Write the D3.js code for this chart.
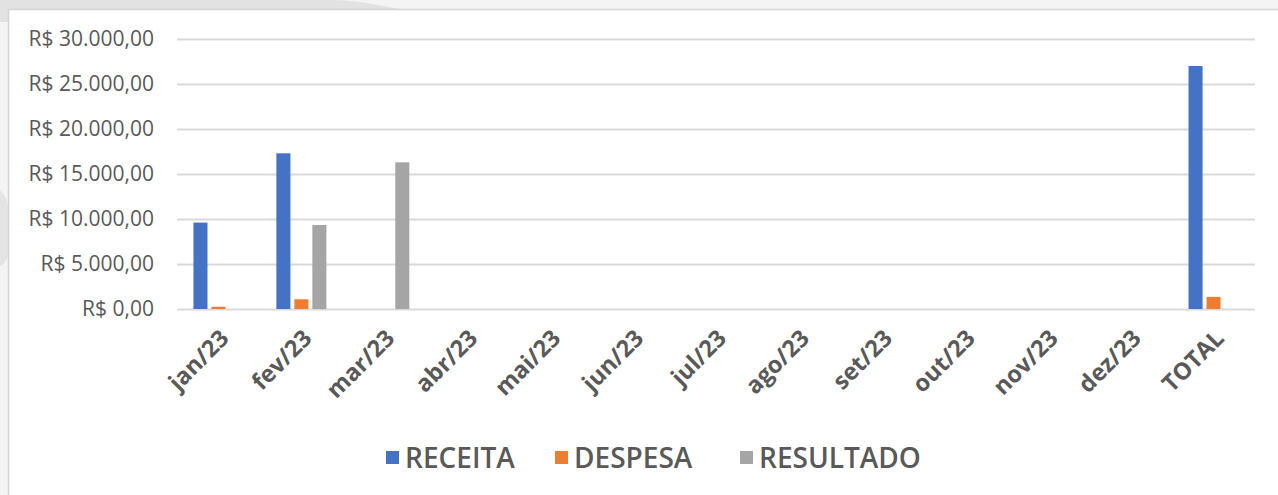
<!DOCTYPE html>
<html>
<head>
<meta charset="utf-8">
<script src="https://cdn.jsdelivr.net/npm/d3@7"></script>
<style>
  body { margin: 0; background: #fff; }
  svg { display: block; }
</style>
</head>
<body>
<svg width="1278" height="495"></svg>
<script>
// data
var categories = ["jan/23", "fev/23", "mar/23", "abr/23", "mai/23", "jun/23",
                  "jul/23", "ago/23", "set/23", "out/23", "nov/23", "dez/23", "TOTAL"];
var seriesNames = ["RECEITA", "DESPESA", "RESULTADO"];
var receita   = [9600, 17300, 0, 0, 0, 0, 0, 0, 0, 0, 0, 0, 27000];
var despesa   = [250, 1080, 0, 0, 0, 0, 0, 0, 0, 0, 0, 0, 1350];
var resultado = [0, 9330, 16300, 0, 0, 0, 0, 0, 0, 0, 0, 0, 0];
var yTicks = [0, 5000, 10000, 15000, 20000, 25000, 30000];
var colors = ["#4472C4", "#ED7D31", "#A5A5A5"];

var seriesValues = [receita, despesa, resultado];

var svg = d3.select("svg"),
    margin = {top: 39, right: 23, bottom: 186, left: 177},
    width = +svg.attr("width") - margin.left - margin.right,
    height = +svg.attr("height") - margin.top - margin.bottom;

// outside background bits (the chart sits on a grey page)
svg.append("rect").attr("width", 1278).attr("height", 495).attr("fill", "#f4f4f4");
svg.append("path")
    .attr("d", "M0,0 L330,0 C360,0 380,6 400,9 L8,9 L8,22 L0,22 Z")
    .attr("fill", "#e2e2e2");
svg.append("path")
    .attr("d", "M0,190 C5,195 8,200 8,210 L8,255 C6,262 3,265 0,266 Z")
    .attr("fill", "#e4e4e4");
svg.append("rect")
    .attr("x", 8.5).attr("y", 9.5).attr("width", 1280).attr("height", 500)
    .attr("fill", "#fff").attr("stroke", "#d4d4d4").attr("stroke-width", 1.5);

var x = d3.scaleBand().domain(categories).range([0, width]).padding(0),
    x1 = d3.scaleBand().domain(seriesNames).range([-25, 25]).paddingInner(0.22),
    y = d3.scaleLinear().domain([0, 30000]).range([height, 0]);

var g = svg.append("g")
    .attr("transform", "translate(" + margin.left + "," + margin.top + ")");

var fmt = function(v) {
    var s = d3.format(",.2f")(v);
    return "R$ " + s.replace(/,/g, "#").replace(".", ",").replace(/#/g, ".");
};

// gridlines + y labels
g.append("g")
    .attr("class", "axis axis--y")
    .call(d3.axisLeft(y).tickValues(yTicks).tickSize(-width).tickPadding(23).tickFormat(fmt))
    .call(function(a) {
        a.select(".domain").remove();
        a.selectAll("line").attr("stroke", "#d9d9d9").attr("stroke-width", 2);
        a.selectAll("text")
            .attr("fill", "#595959")
            .style("font-family", "'Open Sans', sans-serif")
            .style("font-size", "21px");
    });

// bars
seriesNames.forEach(function(name, i) {
    g.selectAll(".bar-" + i)
        .data(categories.map(function(c, j) { return {cat: c, v: seriesValues[i][j]}; })
              .filter(function(d) { return d.v > 0; }))
        .enter().append("rect")
        .attr("class", "bar-" + i)
        .attr("x", function(d) { return x(d.cat) + x.bandwidth() / 2 + x1(name); })
        .attr("y", function(d) { return y(d.v); })
        .attr("width", x1.bandwidth())
        .attr("height", function(d) { return height - y(d.v); })
        .attr("fill", colors[i]);
});

// x axis labels
g.append("g")
    .attr("class", "axis axis--x")
    .attr("transform", "translate(0," + height + ")")
    .call(d3.axisBottom(x).tickSize(0))
    .call(function(a) {
        a.select(".domain").remove();
        a.selectAll("text")
            .attr("fill", "#595959")
            .attr("text-anchor", "end")
            .attr("transform", "translate(6,25) rotate(-45)")
            .attr("dy", "0.35em")
            .attr("y", 0)
            .style("font-family", "'Open Sans', sans-serif")
            .style("font-weight", "bold")
            .style("font-size", "23.5px");
    });

// legend
var legendX = [386, 555, 740];
var legend = svg.append("g").attr("class", "legend");
seriesNames.forEach(function(name, i) {
    var lg = legend.append("g").attr("transform", "translate(" + legendX[i] + ",458)");
    lg.append("rect").attr("x", 0).attr("y", -7).attr("width", 13).attr("height", 13)
        .attr("fill", colors[i]);
    lg.append("text").attr("x", 19).attr("y", 0).attr("dy", "0.36em")
        .attr("fill", "#595959")
        .style("font-family", "'Open Sans', sans-serif")
        .style("font-weight", "600")
        .style("font-size", "28px")
        .text(name);
});
</script>
</body>
</html>
